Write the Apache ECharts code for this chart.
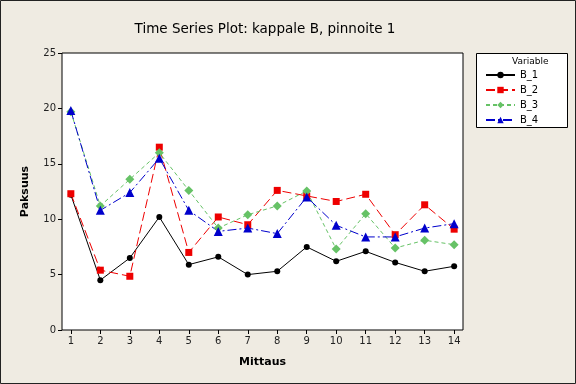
<!DOCTYPE html>
<html><head><meta charset="utf-8">
<script src="https://cdn.jsdelivr.net/npm/echarts@6/dist/echarts.min.js"></script>
<style>html,body{margin:0;padding:0;background:#efebe2}#c{width:576px;height:384px}</style>
</head><body><div id="c"></div>
<script>
const categories = [1,2,3,4,5,6,7,8,9,10,11,12,13,14];
const B_1 = [12.2,4.5,6.5,10.2,5.9,6.6,5.0,5.3,7.5,6.2,7.1,6.1,5.3,5.75];
const B_2 = [12.3,5.4,4.85,16.5,7.0,10.2,9.5,12.6,12.1,11.6,12.25,8.6,11.3,9.1];
const B_3 = [19.7,11.2,13.6,16.0,12.6,9.2,10.4,11.2,12.55,7.3,10.5,7.4,8.1,7.7];
const B_4 = [19.8,10.8,12.4,15.5,10.8,8.9,9.2,8.7,12.0,9.45,8.4,8.4,9.2,9.6];
const yTicks = [0,5,10,15,20,25];
const FONT = 'DejaVu Sans';
function pts(arr){ return arr.map((v,i)=>[categories[i], v]); }
const chart = echarts.init(document.getElementById('c'));
chart.setOption({
  backgroundColor: '#efebe2',
  animation: false,
  title: {text: 'Time Series Plot: kappale B, pinnoite 1', left: 260, top: 17, textAlign: 'center',
    textStyle: {fontFamily: FONT, fontSize: 13.5, fontWeight: 'normal', color: '#000'}},
  grid: {left: 62, top: 53, right: 113, bottom: 54, show: true, backgroundColor: '#fff', borderColor: '#000', borderWidth: 1},
  legend: {orient: 'vertical', left: 480, top: 65, itemWidth: 29, itemHeight: 8, itemGap: 5,
    textStyle: {fontFamily: FONT, fontSize: 10, color: '#000'}, data: ['B_1','B_2','B_3','B_4']},
  xAxis: {type: 'value', min: 0.7, max: 14.3,
    name: 'Mittaus', nameLocation: 'middle', nameGap: 27,
    nameTextStyle: {fontFamily: FONT, fontSize: 11, fontWeight: 'bold', color: '#000'},
    axisLine: {show: false}, splitLine: {show: false},
    axisTick: {show: true, length: 4, inside: false, lineStyle: {color: '#000'}, customValues: categories},
    axisLabel: {fontFamily: FONT, fontSize: 10, color: '#222', margin: 6, customValues: categories}},
  yAxis: {type: 'value', min: 0, max: 25, interval: 5,
    name: 'Paksuus', nameLocation: 'middle', nameGap: 31,
    nameTextStyle: {fontFamily: FONT, fontSize: 11, fontWeight: 'bold', color: '#000'},
    axisLine: {show: false}, splitLine: {show: false},
    axisTick: {show: true, length: 4, lineStyle: {color: '#000'}},
    axisLabel: {fontFamily: FONT, fontSize: 10, color: '#222', margin: 6}},
  graphic: [
    {type: 'rect', shape: {x: 476.5, y: 53.5, width: 91, height: 74}, style: {fill: '#fff', stroke: '#000', lineWidth: 1}, z: -1},
    {type: 'text', left: 512, top: 57, style: {text: 'Variable', font: '9px "DejaVu Sans"', fill: '#000'}},
    {type: 'rect', shape: {x: 0.5, y: 0.5, width: 575, height: 383}, style: {fill: null, stroke: '#222', lineWidth: 1}, silent: true}
  ],
  series: [
    {name: 'B_1', type: 'line', data: pts(B_1), symbol: 'circle', symbolSize: 6,
      itemStyle: {color: '#000'}, lineStyle: {color: '#000', width: 1}},
    {name: 'B_2', type: 'line', data: pts(B_2), symbol: 'rect', symbolSize: 7,
      itemStyle: {color: '#ee0000'}, lineStyle: {color: '#ee0000', width: 1, type: [9,4]}},
    {name: 'B_3', type: 'line', data: pts(B_3), symbol: 'diamond', symbolSize: 9,
      itemStyle: {color: '#66c266'}, lineStyle: {color: '#66c266', width: 1, type: [4,3]}},
    {name: 'B_4', type: 'line', data: pts(B_4), symbol: 'triangle', symbolSize: 9,
      itemStyle: {color: '#0000cc'}, lineStyle: {color: '#0000cc', width: 1, type: [9,3,2,3]}}
  ]
});
</script></body></html>
